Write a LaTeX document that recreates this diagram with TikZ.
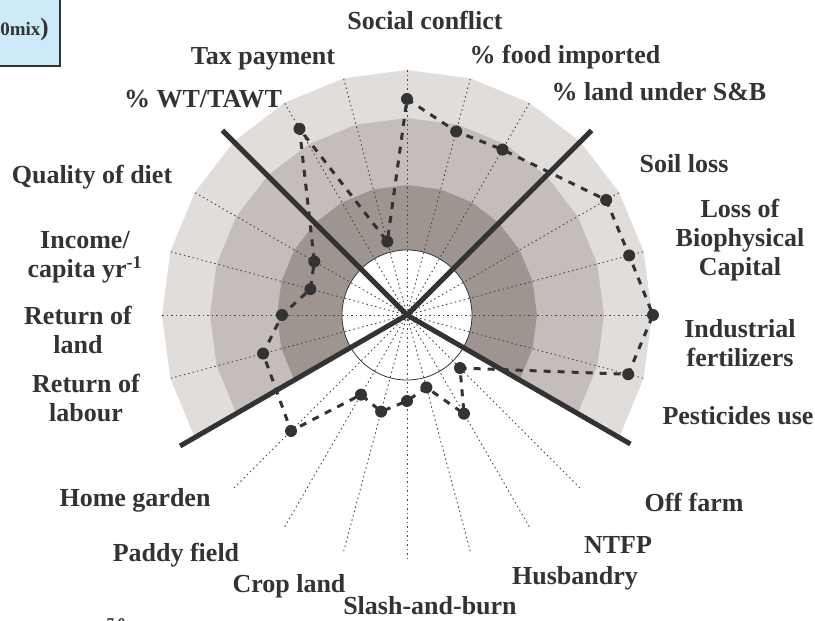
\documentclass[tikz,border=0pt]{standalone}
\usepackage{fontspec}
\setmainfont{Liberation Serif}
\definecolor{ink}{RGB}{51,51,51}
\definecolor{axisgray}{RGB}{70,70,70}
\definecolor{bandouter}{RGB}{224,221,219}
\definecolor{bandmid}{RGB}{197,189,185}
\definecolor{bandinner}{RGB}{158,148,144}
\definecolor{boxblue}{RGB}{204,234,248}
\begin{document}
\begin{tikzpicture}[x=1pt,y=1pt,
  lbl/.style={font=\fontsize{26}{29}\selectfont\bfseries, text=ink, align=center, inner sep=0pt},
  axisline/.style={draw=axisgray, line width=0.9pt, dash pattern=on 1.5pt off 3pt},
  divider/.style={draw=ink, line width=5pt},
  profile/.style={draw=ink, line width=3pt, dash pattern=on 7pt off 7pt},
  dot/.style={circle, fill=ink, inner sep=0pt, minimum size=12pt},
]
\useasboundingbox (-407,-306) rectangle (408,315);
\clip (-407,-306) rectangle (408,315);

% legend box in the corner
\filldraw[fill=boxblue, draw=ink, line width=1.2pt] (-430,330) rectangle (-347,249);
\node[anchor=base east, text=ink, inner sep=0pt] (legend) at (-358,279)
  {\bfseries\fontsize{19}{19}\selectfont 0mix\fontsize{25}{25}\selectfont )};

% shaded bands over the upper sector, from -30 to 210 degrees
\fill[bandouter] (0,0) -- plot[samples at={-30,-15,...,210}] (\x:245) -- cycle;
\fill[bandmid]   (0,0) -- plot[samples at={-30,-15,...,210}] (\x:197) -- cycle;
\fill[bandinner] (0,0) -- plot[samples at={-30,-15,...,210}] (\x:130) -- cycle;

% white core
\filldraw[fill=white, draw=ink, line width=0.8pt] (0,0) circle (65);

\coordinate (O) at (0,0);

% radial axes
\foreach \a in {0,15,...,345} {
  \coordinate (ax\a) at (\a:245);
  \draw[axisline] (O) -- (ax\a);
}

% sector dividers
\coordinate (d1) at (45:261);
\coordinate (d2) at (135:261);
\coordinate (d3) at (210:262);
\coordinate (d4) at (-30:258);
\foreach \d in {d1,d2,d3,d4} \draw[divider] (O) -- (\d);

% indicator values
\foreach \a/\r/\n in {90/216/p1, 75/190/p2, 60/191/p3, 30/230/p4, 15/230/p5,
    0/246/p6, -15/229/p7, -45/75/p8, -60/114/p9, -75/75/p10, -90/86/p11,
    -105/100/p12, -120/92/p13, -135/164/p14, -165/149/p15, 180/125/p16,
    165/100/p17, 150/107/p18, 120/215/p19, 105/76/p20}
  \coordinate (\n) at (\a:\r);

\draw[profile] (p1) -- (p2) -- (p3) -- (p4) -- (p5) -- (p6) -- (p7) -- (p8)
  -- (p9) -- (p10) -- (p11) -- (p12) -- (p13) -- (p14) -- (p15) -- (p16)
  -- (p17) -- (p18) -- (p19) -- (p20) -- cycle;

\foreach \n in {p1,p2,p3,p4,p5,p6,p7,p8,p9,p10,p11,p12,p13,p14,p15,p16,p17,p18,p19,p20}
  \node[dot] (m\n) at (\n) {};

% axis labels
\node[lbl] (l1)  at (18,295)    {Social conflict};
\node[lbl] (l2)  at (158,258)   {\% food imported};
\node[lbl] (l3)  at (252,223)   {\% land under S\&B};
\node[lbl] (l4)  at (277,151)   {Soil loss};
\node[lbl] (l5)  at (333,75)    {Loss of\\Biophysical\\Capital};
\node[lbl] (l6)  at (333,-28)   {Industrial\\fertilizers};
\node[lbl] (l7)  at (331,-101)  {Pesticides use};
\node[lbl] (l8)  at (287,-187)  {Off farm};
\node[lbl] (l9)  at (211,-230)  {NTFP};
\node[lbl] (l10) at (168,-263)  {Husbandry};
\node[lbl] (l11) at (23,-291)   {Slash-and-burn};
\node[lbl] (l12) at (-118,-271) {Crop land};
\node[lbl] (l13) at (-231,-240) {Paddy field};
\node[lbl] (l14) at (-272,-185) {Home garden};
\node[lbl] (l15) at (-321,-83)  {Return of\\labour};
\node[lbl] (l16) at (-329,-15)  {Return of\\land};
\node[lbl] (l17) at (-322,58)   {Income/\\capita yr\textsuperscript{-1}};
\node[lbl] (l18) at (-315,138)  {Quality of diet};
\node[lbl] (l19) at (-204,216)  {\% WT/TAWT};
\node[lbl] (l20) at (-144,256)  {Tax payment};

% scale value at the foot
\node[anchor=north, text=ink, inner sep=0pt, font=\bfseries\fontsize{15}{15}\selectfont] (scale) at (-291,-303) {7.0};
\end{tikzpicture}
\end{document}
